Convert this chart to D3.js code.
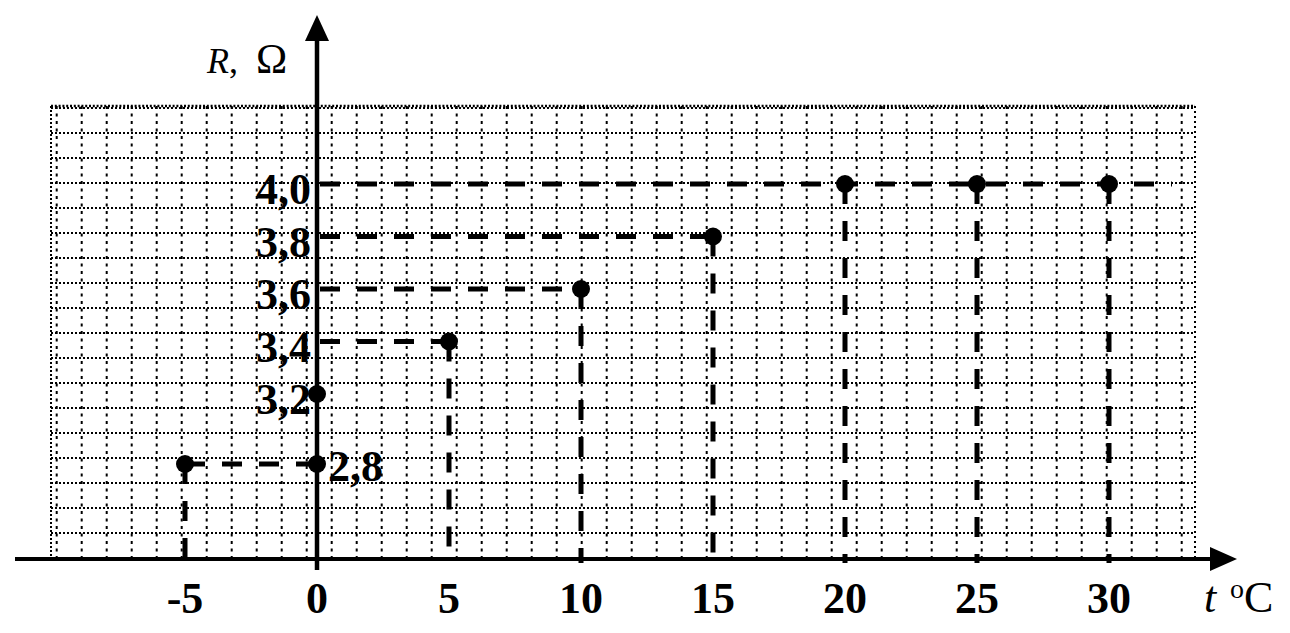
<!DOCTYPE html>
<html>
<head>
<meta charset="utf-8">
<script src="https://cdn.jsdelivr.net/npm/d3@7"></script>
<style>
  html, body { margin: 0; padding: 0; background: #fff; }
  svg { display: block; }
  text { font-family: "Liberation Serif", "Times New Roman", serif; fill: #000; }
</style>
</head>
<body>
<svg id="chart" width="1290" height="633"></svg>
<script>
// ---- data ----
const tValues = [-5, 0, 0, 5, 10, 15, 20, 25, 30];
const rValues = [2.8, 2.8, 3.2, 3.4, 3.6, 3.8, 4.0, 4.0, 4.0];
const xTickValues = [-5, 0, 5, 10, 15, 20, 25, 30];
const xTickLabels = ["-5", "0", "5", "10", "15", "20", "25", "30"];
const yTickValues = [4.0, 3.8, 3.6, 3.4, 3.2, 2.8];
const yTickLabels = ["4,0", "3,8", "3,6", "3,4", "3,2", "2,8"];
const yTitle = ["R", ",", "Ω"];
const xTitle = ["t", "o", "C"];

// ---- layout ----
const svg = d3.select("#chart");
const axisX0 = 317, axisY0 = 559;
const x = d3.scaleLinear().domain([0, 30]).range([axisX0, axisX0 + 30 * 26.4]);
// broken value axis: 2.8 sits just below 3.2
const y = d3.scaleLinear().domain([2.8, 3.2, 4.0]).range([464, 394, 184]);

const grid = { left: 51, right: 1195, top: 106, bottom: 558, step: 25 };

// ---- grid (graph paper) ----
const gGrid = svg.append("g").attr("stroke", "#000").attr("fill", "none");
const vLines = d3.range(grid.left + 5.7, grid.right - 5, grid.step);
gGrid.selectAll("line.v").data(vLines).join("line")
  .attr("class", "v")
  .attr("x1", d => d).attr("x2", d => d)
  .attr("y1", grid.top).attr("y2", grid.bottom)
  .attr("stroke-width", 2).attr("stroke-dasharray", "3,4.5");
const hLines = d3.range(grid.bottom, grid.top + 1, -grid.step);
gGrid.selectAll("line.h").data(hLines).join("line")
  .attr("class", "h")
  .attr("x1", grid.left).attr("x2", grid.right)
  .attr("y1", d => d).attr("y2", d => d)
  .attr("stroke-width", 2).attr("stroke-dasharray", "2,2");
// border
gGrid.append("line").attr("x1", grid.left).attr("x2", grid.right)
  .attr("y1", grid.top).attr("y2", grid.top)
  .attr("stroke-width", 2.5).attr("stroke-dasharray", "2,1.8");
gGrid.append("line").attr("x1", grid.left).attr("x2", grid.left)
  .attr("y1", grid.top).attr("y2", grid.bottom)
  .attr("stroke-width", 2).attr("stroke-dasharray", "2,2");
gGrid.append("line").attr("x1", grid.right).attr("x2", grid.right)
  .attr("y1", grid.top).attr("y2", grid.bottom)
  .attr("stroke-width", 2).attr("stroke-dasharray", "2,3");

// ---- guide lines ----
const points = tValues.map((t, i) => ({ t, r: rValues[i] }));
const gGuide = svg.append("g").attr("stroke", "#000").attr("stroke-width", 5)
  .attr("stroke-dasharray", "20,17").attr("fill", "none");

// vertical guides to the t axis
gGuide.selectAll("line.vg").data(points.filter(p => p.t !== 0)).join("line")
  .attr("class", "vg")
  .attr("x1", d => x(d.t)).attr("x2", d => x(d.t))
  .attr("y1", d => y(d.r)).attr("y2", axisY0 + 4);

// horizontal guides to the R axis
const rMax = d3.max(rValues);
const hGroups = d3.groups(points.filter(p => p.t !== 0), d => d.r).map(([r, ps]) => ({
  r,
  tMin: Math.min(0, d3.min(ps, p => p.t)),
  tMax: Math.max(0, d3.max(ps, p => p.t))
}));
gGuide.selectAll("line.hg").data(hGroups).join("line")
  .attr("class", "hg")
  .attr("x1", d => d.tMin < 0 ? x(d.tMin) : x(0) + 3)
  .attr("x2", d => d.tMin < 0 ? x(0) : x(d.tMax) + (d.r === rMax ? 63 : 0))
  .attr("y1", d => y(d.r)).attr("y2", d => y(d.r));

// ---- axes ----
const gAxis = svg.append("g");
gAxis.append("line").attr("x1", 15).attr("x2", 1214)
  .attr("y1", axisY0).attr("y2", axisY0)
  .attr("stroke", "#000").attr("stroke-width", 4);
gAxis.append("path")
  .attr("d", `M1210,${axisY0 - 12} L1237,${axisY0} L1210,${axisY0 + 12} Z`)
  .attr("fill", "#000");
gAxis.append("line").attr("x1", axisX0).attr("x2", axisX0)
  .attr("y1", 570).attr("y2", 36)
  .attr("stroke", "#000").attr("stroke-width", 4.5);
gAxis.append("path")
  .attr("d", `M${axisX0 - 12},41 L${axisX0},15 L${axisX0 + 12},41 Z`)
  .attr("fill", "#000");

// ---- dots ----
svg.append("g").selectAll("circle").data(points).join("circle")
  .attr("cx", d => x(d.t)).attr("cy", d => y(d.r)).attr("r", 9)
  .attr("fill", "#000");

// ---- tick labels ----
svg.append("g").selectAll("text").data(xTickValues).join("text")
  .attr("x", d => x(d)).attr("y", 613)
  .attr("text-anchor", "middle")
  .attr("font-size", 44).attr("font-weight", "bold")
  .text((d, i) => xTickLabels[i]);

const lastY = yTickValues.length - 1;
svg.append("g").selectAll("text").data(yTickValues).join("text")
  .attr("x", (d, i) => i === lastY ? axisX0 + 11 : axisX0 - 6)
  .attr("y", (d, i) => y(d) + (i === lastY ? 17 : 20))
  .attr("text-anchor", (d, i) => i === lastY ? "start" : "end")
  .attr("font-size", 44).attr("font-weight", "bold")
  .text((d, i) => yTickLabels[i]);

// ---- axis titles ----
const yt = svg.append("text").attr("x", 207).attr("y", 73).attr("font-size", 36);
yt.append("tspan").attr("font-style", "italic").text(yTitle[0]);
yt.append("tspan").text(yTitle[1]);
yt.append("tspan").attr("x", 256).attr("font-size", 42).text(yTitle[2]);

const xt = svg.append("text").attr("x", 1204).attr("y", 612).attr("font-size", 44);
xt.append("tspan").attr("font-style", "italic").text(xTitle[0]);
xt.append("tspan").attr("x", 1230).attr("dy", -14).attr("font-size", 28).text(xTitle[1]);
xt.append("tspan").attr("dy", 14).text(xTitle[2]);
</script>
</body>
</html>
